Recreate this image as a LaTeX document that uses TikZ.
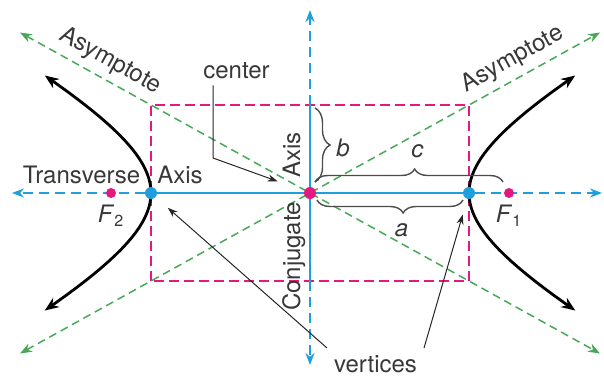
\documentclass[tikz,border=0pt]{standalone}
\usepackage{fontspec}
\setmainfont{TeX Gyre Heros}
\usetikzlibrary{calc,arrows.meta,decorations.pathreplacing,backgrounds,positioning}
\definecolor{cAxis}{HTML}{1E9FDC}
\definecolor{cBox}{HTML}{E4197F}
\definecolor{cAsym}{HTML}{48A857}
\definecolor{cInk}{HTML}{383838}
\tikzset{
  ctr/.style={circle,fill=cBox,inner sep=0pt,minimum size=6pt},
  foc/.style={circle,fill=cBox,inner sep=0pt,minimum size=5pt},
  vtx/.style={circle,fill=cAxis,inner sep=0pt,minimum size=6pt},
  lbl/.style={font=\fontsize{12}{14}\selectfont,text=cInk},
  axs/.style={line width=1pt,cAxis},
  axd/.style={axs,dash pattern=on 5pt off 3pt,-{Stealth[length=6pt,width=4.5pt]}},
  asym/.style={line width=.75pt,cAsym,dash pattern=on 4pt off 2.5pt,{Stealth[length=6pt,width=4.5pt]}-{Stealth[length=6pt,width=4.5pt]}},
  box/.style={line width=.75pt,cBox,dash pattern=on 5pt off 2.5pt},
  branch/.style={line width=1.4pt,black,{Stealth[length=7pt,width=5.5pt]}-{Stealth[length=7pt,width=5.5pt]}},
  brc/.style={decorate,decoration={brace,amplitude=6.5pt},line width=.7pt,black!70},
  ptr/.style={-{Stealth[length=5pt,width=3.5pt]},line width=.5pt,black!85},
}

\begin{document}
\begin{tikzpicture}[x=.5pt,y=.5pt]
  \useasboundingbox (-310,-183) rectangle (294,193);
  \node[ctr] (O) at (0,0) {};
  \node[vtx] (v1) at (159,0) {};
  \node[vtx] (v2) at (-159,0) {};
  \node[foc,label={[lbl]below:\textit{F}\textsubscript{1}}] (f1) at (199,0) {};
  \node[foc,label={[lbl]below:\textit{F}\textsubscript{2}}] (f2) at (-199,0) {};
  \coordinate (xl) at (-298,0);
  \coordinate (xr) at (292,0);
  \coordinate (yt) at (0,183);
  \coordinate (yb) at (0,-172);
  \coordinate (bt) at (0,88);
  \coordinate (bb) at (0,-88);
  \begin{scope}[on background layer]
    \draw[box] (-159,-88) rectangle (159,88);
    \draw[asym] (-290,160.5) -- node[lbl,sloped,above,pos=.14] (asl) {Asymptote} (290,-160.5);
    \draw[asym] (-290,-160.5) -- node[lbl,sloped,above,pos=.865] (asr) {Asymptote} (290,160.5);
    \draw[axs] (v2) -- (O) (O) -- (v1) (bt) -- (O) (O) -- (bb);
    \foreach \a/\b in {v2/xl,v1/xr,bt/yt,bb/yb}
      \draw[axd] (\a) -- (\b);
    \foreach \s in {1,-1}
      \draw[branch] plot[domain=-1.1:1.1,samples=41,variable=\t] ({\s*159*cosh(\t)},{88*sinh(\t)});
  \end{scope}
  \draw[brc,decoration={amplitude=7.5pt}] (5,85) -- (5,11);
  \draw[brc,decoration={aspect=.53}] (5,11) -- (193,11);
  \draw[brc,decoration={aspect=.41}] (153,-7) -- (7,-7);
  \node[lbl] (lb) at (33,45.5) {\textit{b}};
  \node[lbl] (lc) at (107.5,41.5) {\textit{c}};
  \node[lbl] (la) at (91.5,-37) {\textit{a}};
  \node[lbl,anchor=base] (ltr) at (-228.5,10) {Transverse};
  \node[lbl,anchor=base] (lta) at (-130,10) {Axis};
  \node[lbl,rotate=90,anchor=base] (lca) at (-10,38) {Axis};
  \node[lbl,rotate=90,anchor=base] (lcj) at (-10,-63.5) {Conjugate};
  \node[lbl,anchor=base] (lcen) at (-73.5,115) {center};
  \node[lbl,anchor=base] (lver) at (65.5,-179) {vertices};
  \coordinate (cbend) at (-97,35);
  \draw[ptr,shorten >=14pt] (lcen.south -| cbend) -- (cbend) -- (O);
  \draw[ptr,shorten >=8pt] (lver.north west) -- (v2);
  \draw[ptr,shorten >=8pt] (lver.north east) -- (v1);
\end{tikzpicture}
\end{document}
